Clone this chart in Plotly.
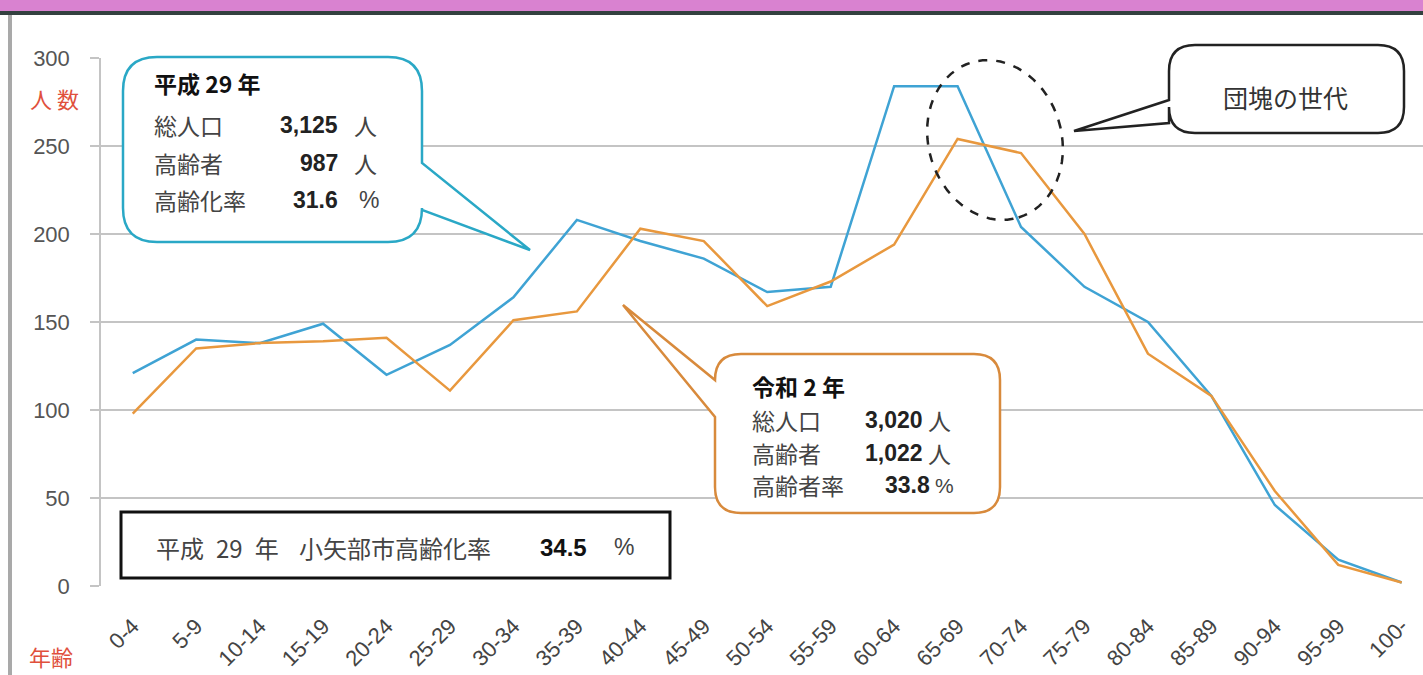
import numpy as np
import plotly.graph_objects as go

# ---------------- data ----------------
age_groups = ["0-4", "5-9", "10-14", "15-19", "20-24", "25-29", "30-34", "35-39",
              "40-44", "45-49", "50-54", "55-59", "60-64", "65-69", "70-74", "75-79",
              "80-84", "85-89", "90-94", "95-99", "100-"]
h29_pop = [121, 140, 138, 149, 120, 137, 164, 208, 196, 186, 167, 170,
           284, 284, 204, 170, 150, 108, 46, 15, 2]
r2_pop = [98, 135, 138, 139, 141, 111, 151, 156, 203, 196, 159, 173,
          194, 254, 246, 200, 132, 108, 54, 12, 2]
y_ticks = [0, 50, 100, 150, 200, 250, 300]

# ---------------- geometry helpers (pixel -> paper) ----------------
W, H = 1423, 675
L, R = 101, 1423
T, B = 58, 586


def px(x):
    return (x - L) / (R - L)


def py(y):
    return (B - y) / (B - T)


def P(x, y):
    return f"{px(x):.5f},{py(y):.5f}"


def callout_path(x0, y0, x1, y1, r, tail=None):
    d = f"M {P(x0 + r, y0)} L {P(x1 - r, y0)} Q {P(x1, y0)} {P(x1, y0 + r)}"
    if tail and tail[0] == "right":
        _, a, b, tx, ty = tail
        d += f" L {P(x1, a)} L {P(tx, ty)} L {P(x1, b)}"
    d += (f" L {P(x1, y1 - r)} Q {P(x1, y1)} {P(x1 - r, y1)} L {P(x0 + r, y1)}"
          f" Q {P(x0, y1)} {P(x0, y1 - r)}")
    if tail and tail[0] == "left":
        _, lower, upper, tx, ty = tail
        d += f" L {P(x0, lower)} L {P(tx, ty)} L {P(x0, upper)}"
    d += f" L {P(x0, y0 + r)} Q {P(x0, y0)} {P(x0 + r, y0)} Z"
    return d


def ellipse_path(cx, cy, a, b, deg):
    th = np.deg2rad(deg)
    ux, uy = np.sin(th), np.cos(th)
    vx, vy = np.cos(th), -np.sin(th)
    t = np.linspace(0, 2 * np.pi, 73)
    xs = cx + a * np.cos(t) * ux + b * np.sin(t) * vx
    ys = cy + a * np.cos(t) * uy + b * np.sin(t) * vy
    d = "M " + " L ".join(P(x, y) for x, y in zip(xs, ys)) + " Z"
    return d


BLUE = "#3fa3d4"
ORANGE = "#e8983e"
FONT = "Liberation Sans, Noto Sans CJK JP, sans-serif"
CJK = "Noto Sans CJK JP, sans-serif"

fig = go.Figure()
fig.add_trace(go.Scatter(x=age_groups, y=h29_pop, mode="lines", name="平成29年",
                         line=dict(color=BLUE, width=2.5)))
fig.add_trace(go.Scatter(x=age_groups, y=r2_pop, mode="lines", name="令和2年",
                         line=dict(color=ORANGE, width=2.5)))

shapes = []
# page decoration
shapes.append(dict(type="rect", xref="paper", yref="paper", x0=px(0), x1=px(W), y0=py(0), y1=py(11),
                   fillcolor="#d982d0", line=dict(width=0), layer="below"))
shapes.append(dict(type="rect", xref="paper", yref="paper", x0=px(0), x1=px(W), y0=py(11), y1=py(15),
                   fillcolor="#33403f", line=dict(width=0), layer="below"))
shapes.append(dict(type="rect", xref="paper", yref="paper", x0=px(8), x1=px(12), y0=py(15), y1=py(H),
                   fillcolor="#a9a9a9", line=dict(width=0), layer="below"))

# callouts
shapes.append(dict(type="path", xref="paper", yref="paper",
                   path=callout_path(123, 57, 422, 242, 34, ("right", 163, 210, 530, 250)),
                   fillcolor="white", line=dict(color="#2aa8c6", width=2.5), layer="above"))
shapes.append(dict(type="path", xref="paper", yref="paper",
                   path=callout_path(715, 354, 1000, 513, 26, ("left", 417, 380, 623, 305)),
                   fillcolor="white", line=dict(color="#d88a3c", width=2.5), layer="above"))
shapes.append(dict(type="path", xref="paper", yref="paper",
                   path=callout_path(1169, 45, 1404, 133, 26, ("left", 123, 100, 1074, 131)),
                   fillcolor="white", line=dict(color="#222222", width=2.5), layer="above"))
# dashed ellipse
shapes.append(dict(type="path", xref="paper", yref="paper",
                   path=ellipse_path(995, 140, 81, 66.5, 17),
                   line=dict(color="#222222", width=2.5, dash="dash"), layer="above"))
# rate box
shapes.append(dict(type="rect", xref="paper", yref="paper", x0=px(121), x1=px(670), y0=py(578), y1=py(512),
                   fillcolor="white", line=dict(color="#111111", width=3), layer="above"))

annotations = []


def text(x, y, s, size=23, color="#444444", anchor="left", family=CJK):
    annotations.append(dict(xref="paper", yref="paper", x=px(x), y=py(y), text=s,
                            showarrow=False, xanchor=anchor, yanchor="middle",
                            font=dict(size=size, color=color, family=family)))


# axis titles
text(54, 98, "人 数", 22, "#e0503c", "center")
text(51, 656, "年齢", 22, "#e0503c", "center")

# H29 callout
text(152, 83, "<b>平成 29 年</b>", 23, "#111111")
text(152, 125, "総人口", 23)
text(152, 163, "高齢者", 23)
text(152, 200, "高齢化率", 23)
text(340, 125, "<b>3,125</b>", 23, "#222222", "right", FONT)
text(340, 163, "<b>987</b>", 23, "#222222", "right", FONT)
text(340, 200, "<b>31.6</b>", 23, "#222222", "right", FONT)
text(352, 125, "人", 23)
text(352, 163, "人", 23)
text(357, 200, "%", 23, "#444444", "left", FONT)

# R2 callout
text(750, 386, "<b>令和 2 年</b>", 23, "#111111")
text(750, 420, "総人口", 23)
text(750, 453, "高齢者", 23)
text(750, 485, "高齢者率", 23)
text(925, 420, "<b>3,020</b>", 23, "#222222", "right", FONT)
text(925, 453, "<b>1,022</b>", 23, "#222222", "right", FONT)
text(932, 485, "<b>33.8</b>", 23, "#222222", "right", FONT)
text(926, 420, "人", 23)
text(926, 453, "人", 23)
text(933, 485, "%", 21, "#444444", "left", FONT)

# dankai callout
text(1285, 97, "団塊の世代", 25, "#333333", "center")

# rate box
text(154, 547, "平成&#8194;29&#8194;年", 24)
text(297, 547, "小矢部市高齢化率", 24)
text(538, 547, "<b>34.5</b>", 24, "#111111", "left", FONT)
text(612, 547, "%", 23, "#444444", "left", FONT)

fig.update_layout(
    width=W, height=H,
    margin=dict(l=L, r=W - R, t=T, b=H - B, pad=0),
    paper_bgcolor="white", plot_bgcolor="white",
    showlegend=False,
    shapes=shapes, annotations=annotations,
    font=dict(family=FONT),
    xaxis=dict(range=[-0.5, (R - L) / 63.45 - 0.5], showgrid=False, zeroline=False,
               showline=False, ticks="", tickangle=-45, ticklabelstandoff=22,
               tickfont=dict(size=22, color="#444444", family=FONT)),
    yaxis=dict(range=[0, 300], tickvals=y_ticks, showgrid=True, gridcolor="#c4c4c4", gridwidth=1.5,
               zeroline=False, showline=True, linecolor="#c4c4c4", linewidth=1.5,
               ticks="outside", ticklen=9, tickcolor="#c4c4c4", tickwidth=1.5,
               ticklabelstandoff=16,
               tickfont=dict(size=22, color="#555555", family=FONT)),
)

fig.write_html("out.html",
               config={"displayModeBar": False},
               post_script="document.body.style.margin='0px';document.body.style.padding='0px';"
                           "document.body.style.overflow='hidden';")
